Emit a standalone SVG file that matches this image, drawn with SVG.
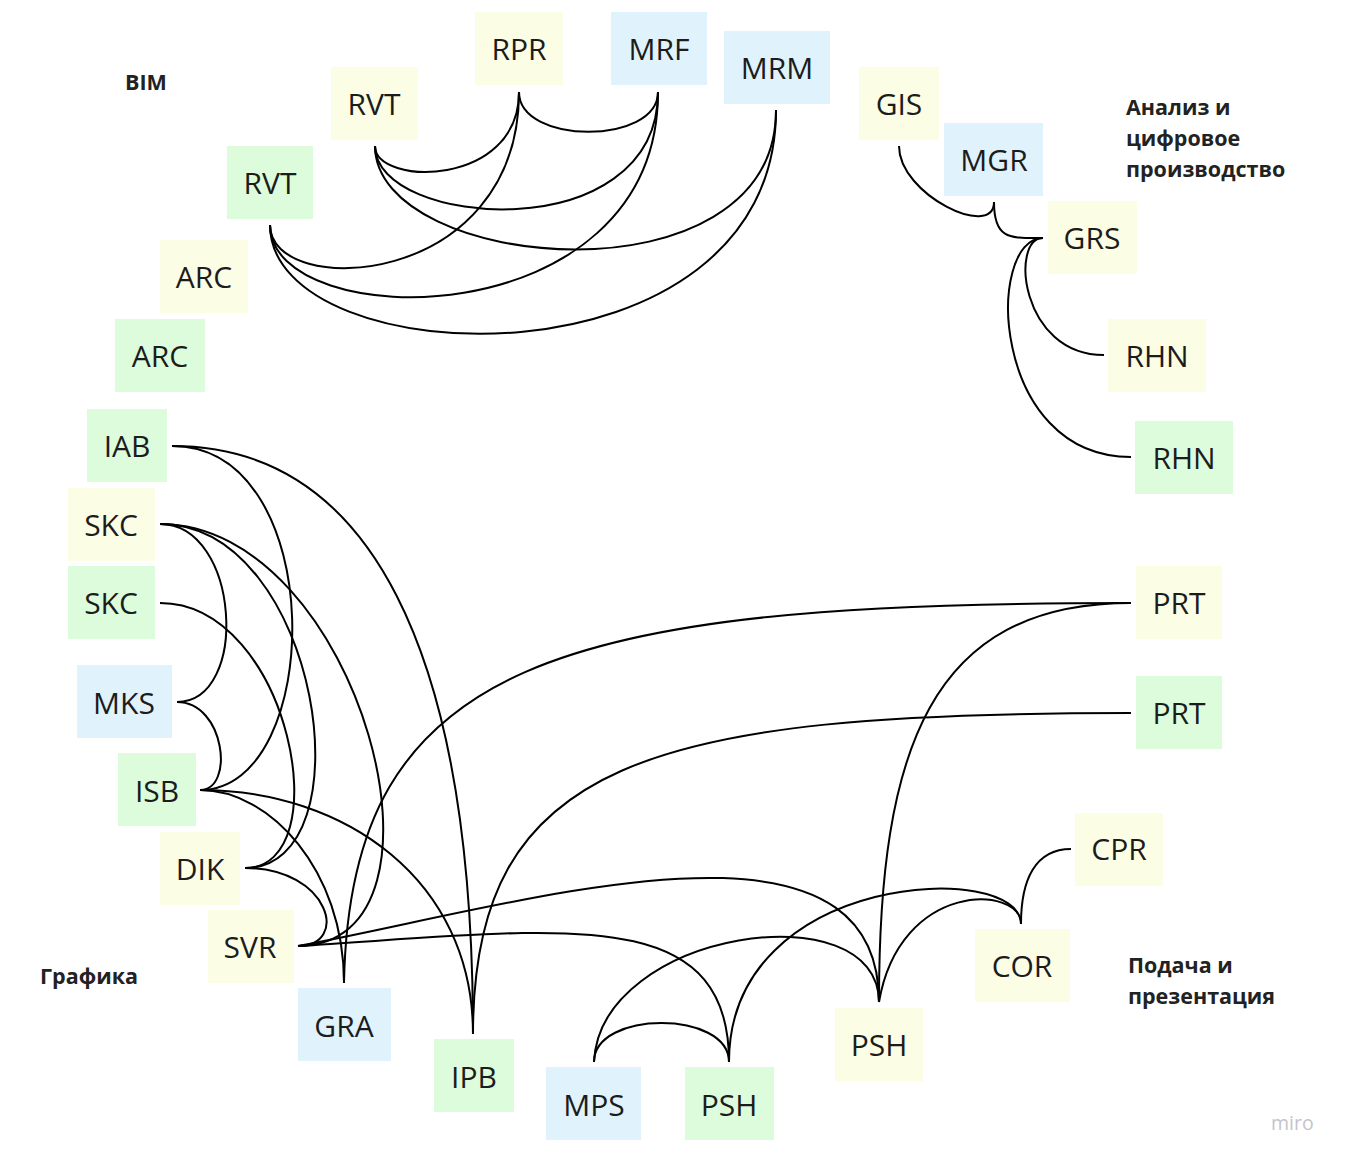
<svg xmlns="http://www.w3.org/2000/svg" width="1345" height="1161" viewBox="0 0 1345 1161">
<style>
.y{fill:#fcfde5}.g{fill:#dcfcdb}.b{fill:#e0f3fd}
.t{font-family:"Open Sans","Liberation Sans",sans-serif;font-size:30px;fill:#1c1c1c;text-anchor:middle}
.lb{font-family:"Open Sans","Liberation Sans",sans-serif;font-size:21.5px;font-weight:bold;fill:#222}
.c path{fill:none;stroke:#000;stroke-width:2}
</style>
<rect width="1345" height="1161" fill="#fff"/>
<g class="c" id="connectors">
<path d="M519,92 C519,145 658,145 658,92"/>
<path d="M375,146 C375,186 519,188 519,92"/>
<path d="M270,225 C270,300 519,290 519,92"/>
<path d="M375,146 C375,228 658,250 658,92"/>
<path d="M270,225 C270,335 658,340 658,92"/>
<path d="M375,146 C375,272 776,308 776,110"/>
<path d="M270,225 C270,378 776,395 776,110"/>
<path d="M899,146 C899,195 994,240 994,202"/>
<path d="M994,202 C994,240 1010,238 1043,238"/>
<path d="M1043,238 C1010,238 1020,355 1104,355"/>
<path d="M1043,238 C985,238 990,457 1131,457"/>
<path d="M172,446 C330,446 325,790 200,790"/>
<path d="M172,446 C370,446 473,650 473,1034"/>
<path d="M160,524 C240,524 250,702 177,702"/>
<path d="M177,702 C225,702 235,790 200,790"/>
<path d="M160,524 C320,524 370,868 245,868"/>
<path d="M160,603 C290,603 340,868 245,868"/>
<path d="M160,524 C360,524 470,946 298,946"/>
<path d="M200,790 C270,790 344,870 344,983"/>
<path d="M200,790 C345,790 473,880 473,1034"/>
<path d="M245,868 C330,868 350,946 298,946"/>
<path d="M1131,603 C560,603 350,660 344,983"/>
<path d="M1131,713 C650,713 473,760 473,1034"/>
<path d="M1131,603 C930,603 879,750 879,1002"/>
<path d="M298,946 C520,905 879,790 879,1002"/>
<path d="M298,946 C560,930 729,900 729,1062"/>
<path d="M594,1062 C594,1010 729,1010 729,1062"/>
<path d="M594,1062 C600,930 879,890 879,1002"/>
<path d="M1021,924 C1021,860 729,870 729,1062"/>
<path d="M1021,924 C1021,885 900,880 879,1002"/>
<path d="M1071,849 C1035,849 1021,880 1021,924"/>
</g>
<g id="n-rpr"><rect class="y" x="475" y="12" width="88" height="73"/><text class="t" x="519" y="60">RPR</text></g>
<g id="n-mrf"><rect class="b" x="611" y="12" width="96" height="73"/><text class="t" x="659" y="60">MRF</text></g>
<g id="n-mrm"><rect class="b" x="724" y="31" width="106" height="73"/><text class="t" x="777" y="79">MRM</text></g>
<g id="n-rvt1"><rect class="y" x="331" y="67" width="87" height="73"/><text class="t" x="374" y="115">RVT</text></g>
<g id="n-rvt2"><rect class="g" x="227" y="146" width="86" height="73"/><text class="t" x="270" y="194">RVT</text></g>
<g id="n-arc1"><rect class="y" x="160" y="240" width="88" height="73"/><text class="t" x="204" y="288">ARC</text></g>
<g id="n-arc2"><rect class="g" x="115" y="319" width="90" height="73"/><text class="t" x="160" y="367">ARC</text></g>
<g id="n-iab"><rect class="g" x="87" y="409" width="80" height="73"/><text class="t" x="127" y="457">IAB</text></g>
<g id="n-skc1"><rect class="y" x="68" y="488" width="87" height="73"/><text class="t" x="111" y="536">SKC</text></g>
<g id="n-skc2"><rect class="g" x="68" y="566" width="87" height="73"/><text class="t" x="111" y="614">SKC</text></g>
<g id="n-mks"><rect class="b" x="77" y="665" width="95" height="73"/><text class="t" x="124" y="714">MKS</text></g>
<g id="n-isb"><rect class="g" x="118" y="753" width="78" height="73"/><text class="t" x="157" y="802">ISB</text></g>
<g id="n-dik"><rect class="y" x="160" y="832" width="80" height="73"/><text class="t" x="200" y="880">DIK</text></g>
<g id="n-svr"><rect class="y" x="208" y="910" width="86" height="73"/><text class="t" x="250" y="958">SVR</text></g>
<g id="n-gra"><rect class="b" x="298" y="988" width="93" height="73"/><text class="t" x="344" y="1037">GRA</text></g>
<g id="n-ipb"><rect class="g" x="434" y="1039" width="80" height="73"/><text class="t" x="474" y="1088">IPB</text></g>
<g id="n-mps"><rect class="b" x="546" y="1067" width="95" height="73"/><text class="t" x="594" y="1116">MPS</text></g>
<g id="n-psh1"><rect class="g" x="685" y="1067" width="89" height="73"/><text class="t" x="729" y="1116">PSH</text></g>
<g id="n-psh2"><rect class="y" x="835" y="1008" width="88" height="73"/><text class="t" x="879" y="1056">PSH</text></g>
<g id="n-cor"><rect class="y" x="975" y="929" width="95" height="73"/><text class="t" x="1022" y="977">COR</text></g>
<g id="n-cpr"><rect class="y" x="1075" y="813" width="88" height="73"/><text class="t" x="1119" y="860">CPR</text></g>
<g id="n-prt2"><rect class="g" x="1136" y="676" width="86" height="73"/><text class="t" x="1179" y="724">PRT</text></g>
<g id="n-prt1"><rect class="y" x="1136" y="566" width="86" height="73"/><text class="t" x="1179" y="614">PRT</text></g>
<g id="n-rhn2"><rect class="g" x="1135" y="421" width="98" height="73"/><text class="t" x="1184" y="469">RHN</text></g>
<g id="n-rhn1"><rect class="y" x="1108" y="319" width="98" height="73"/><text class="t" x="1157" y="367">RHN</text></g>
<g id="n-grs"><rect class="y" x="1048" y="201" width="89" height="73"/><text class="t" x="1092" y="249">GRS</text></g>
<g id="n-mgr"><rect class="b" x="944" y="123" width="99" height="73"/><text class="t" x="994" y="171">MGR</text></g>
<g id="n-gis"><rect class="y" x="859" y="67" width="80" height="73"/><text class="t" x="899" y="115">GIS</text></g>
<g id="labels">
<text class="lb" x="125" y="90">BIM</text>
<text class="lb" x="1126" y="115">Анализ и</text>
<text class="lb" x="1126" y="146">цифровое</text>
<text class="lb" x="1126" y="177">производство</text>
<text class="lb" x="40" y="984">Графика</text>
<text class="lb" x="1128" y="973">Подача и</text>
<text class="lb" x="1128" y="1004">презентация</text>
<text x="1271" y="1130" style="font-family:'Open Sans','Liberation Sans',sans-serif;font-size:19.5px;fill:#c4c4cc">miro</text>
</g>
</svg>
